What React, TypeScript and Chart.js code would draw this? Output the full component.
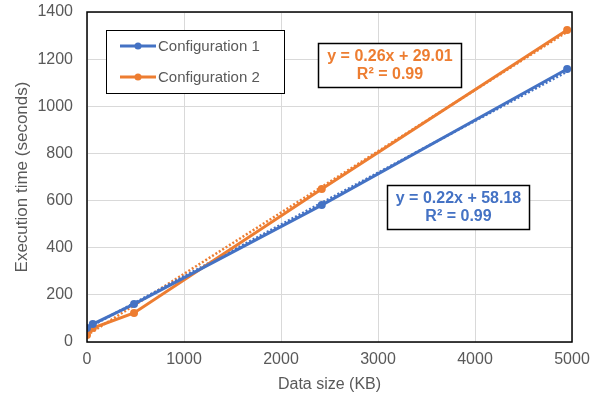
import React, { useEffect, useRef } from "react";
import { Chart, registerables } from "chart.js";

Chart.register(...registerables);

const series1Name = "Configuration 1";
const series2Name = "Configuration 2";
const dataSizes = [0, 60, 485, 2420, 4950];
const config1Times = [59, 76, 161, 581, 1158];
const config2Times = [30, 59, 123, 649, 1324];
const trend1 = { slope: 0.22, intercept: 58.18, r2: 0.99 };
const trend2 = { slope: 0.26, intercept: 29.01, r2: 0.99 };
const xTicks = [0, 1000, 2000, 3000, 4000, 5000];
const yTicks = [0, 200, 400, 600, 800, 1000, 1200, 1400];

const BLUE = "#4472C4";
const ORANGE = "#ED7D31";
const FONT = "'Liberation Sans', Arial, sans-serif";

function pts(xs: number[], ys: number[]) {
  return xs.map((x, i) => ({ x, y: ys[i] }));
}
function trendPts(t: { slope: number; intercept: number }, xs: number[]) {
  const x0 = xs[0];
  const x1 = xs[xs.length - 1];
  return [
    { x: x0, y: t.slope * x0 + t.intercept },
    { x: x1, y: t.slope * x1 + t.intercept },
  ];
}
function eqText(t: { slope: number; intercept: number }) {
  return `y = ${t.slope.toFixed(2)}x + ${t.intercept.toFixed(2)}`;
}

const overlayPlugin = {
  id: "overlay",
  afterDraw(chart: any) {
    const ctx = chart.ctx as CanvasRenderingContext2D;
    const a = chart.chartArea;
    ctx.save();
    // plot frame
    ctx.strokeStyle = "#000";
    ctx.lineWidth = 1.5;
    ctx.strokeRect(a.left, a.top, a.right - a.left, a.bottom - a.top);
    // legend box
    const lx = a.left + 19.5, ly = a.top + 18.5, lw = 178, lh = 63;
    ctx.fillStyle = "#fff";
    ctx.fillRect(lx, ly, lw, lh);
    ctx.strokeStyle = "#000";
    ctx.lineWidth = 1;
    ctx.strokeRect(lx, ly, lw, lh);
    const items = [
      { name: series1Name, color: BLUE, y: a.top + 34 },
      { name: series2Name, color: ORANGE, y: a.top + 65 },
    ];
    ctx.font = `15px ${FONT}`;
    ctx.textBaseline = "middle";
    ctx.textAlign = "left";
    for (const it of items) {
      ctx.strokeStyle = it.color;
      ctx.lineWidth = 3;
      ctx.beginPath();
      ctx.moveTo(a.left + 33, it.y);
      ctx.lineTo(a.left + 69, it.y);
      ctx.stroke();
      ctx.fillStyle = it.color;
      ctx.beginPath();
      ctx.arc(a.left + 51, it.y, 3.5, 0, Math.PI * 2);
      ctx.fill();
      ctx.fillStyle = "#595959";
      ctx.fillText(it.name, a.left + 71, it.y + 1);
    }
    // equation boxes
    const boxes = [
      { t: trend2, color: ORANGE, x: a.left + 231.5, y: a.top + 31.5, w: 143, h: 44 },
      { t: trend1, color: BLUE, x: a.left + 300.5, y: a.top + 173.5, w: 142, h: 44 },
    ];
    ctx.font = `bold 16px ${FONT}`;
    ctx.textAlign = "center";
    for (const b of boxes) {
      ctx.fillStyle = "#fff";
      ctx.fillRect(b.x, b.y, b.w, b.h);
      ctx.strokeStyle = "#000";
      ctx.lineWidth = 1.5;
      ctx.strokeRect(b.x, b.y, b.w, b.h);
      ctx.fillStyle = b.color;
      ctx.fillText(eqText(b.t), b.x + b.w / 2, b.y + 13);
      ctx.fillText(`R² = ${b.t.r2.toFixed(2)}`, b.x + b.w / 2, b.y + 31);
    }
    ctx.restore();
  },
};

export default function App() {
  const ref = useRef<HTMLCanvasElement>(null);
  useEffect(() => {
    document.body.style.margin = "0";
    const chart = new Chart(ref.current!, {
      type: "scatter",
      data: {
        datasets: [
          {
            label: series1Name + " trend",
            data: trendPts(trend1, dataSizes),
            showLine: true,
            borderColor: BLUE,
            borderWidth: 2.5,
            borderDash: [2, 2],
            pointRadius: 0,
            order: 3,
          },
          {
            label: series2Name + " trend",
            data: trendPts(trend2, dataSizes),
            showLine: true,
            borderColor: ORANGE,
            borderWidth: 2.5,
            borderDash: [2, 2],
            pointRadius: 0,
            order: 4,
          },
          {
            label: series1Name,
            data: pts(dataSizes, config1Times),
            showLine: true,
            borderColor: BLUE,
            backgroundColor: BLUE,
            borderWidth: 3,
            pointRadius: 4,
            pointBorderWidth: 0,
            order: 1,
          },
          {
            label: series2Name,
            data: pts(dataSizes, config2Times),
            showLine: true,
            borderColor: ORANGE,
            backgroundColor: ORANGE,
            borderWidth: 3,
            pointRadius: 4,
            pointBorderWidth: 0,
            order: 2,
          },
        ],
      },
      options: {
        responsive: false,
        animation: false,
        layout: { padding: { left: 0, right: 44, top: 12, bottom: 0 } },
        plugins: { legend: { display: false }, tooltip: { enabled: false } },
        scales: {
          x: {
            type: "linear",
            min: xTicks[0],
            max: xTicks[xTicks.length - 1],
            afterBuildTicks: (s: any) => {
              s.ticks = xTicks.map((v) => ({ value: v }));
            },
            afterFit: (s: any) => {
              s.height = 58;
              s.paddingLeft = 0;
              s.paddingRight = 0;
            },
            ticks: {
              color: "#595959",
              font: { family: FONT, size: 16 },
              padding: 8,
              callback: (v: any) => String(v),
            },
            grid: { color: "#d9d9d9", drawTicks: false },
            border: { display: false },
            title: {
              display: true,
              text: "Data size (KB)",
              color: "#595959",
              font: { family: FONT, size: 16 },
              padding: { top: 2, bottom: 6 },
            },
          },
          y: {
            type: "linear",
            min: yTicks[0],
            max: yTicks[yTicks.length - 1],
            afterBuildTicks: (s: any) => {
              s.ticks = yTicks.map((v) => ({ value: v }));
            },
            afterFit: (s: any) => {
              s.width = 87;
              s.paddingTop = 0;
              s.paddingBottom = 0;
            },
            ticks: {
              color: "#595959",
              font: { family: FONT, size: 16 },
              padding: 14,
              callback: (v: any) => String(v),
            },
            grid: { color: "#d9d9d9", drawTicks: false },
            border: { display: false },
            title: {
              display: true,
              text: "Execution time (seconds)",
              color: "#595959",
              font: { family: FONT, size: 17 },
              padding: { top: 12, bottom: 0 },
            },
          },
        },
      },
      plugins: [overlayPlugin],
    } as any);
    return () => chart.destroy();
  }, []);
  return <canvas ref={ref} width={616} height={400} />;
}
